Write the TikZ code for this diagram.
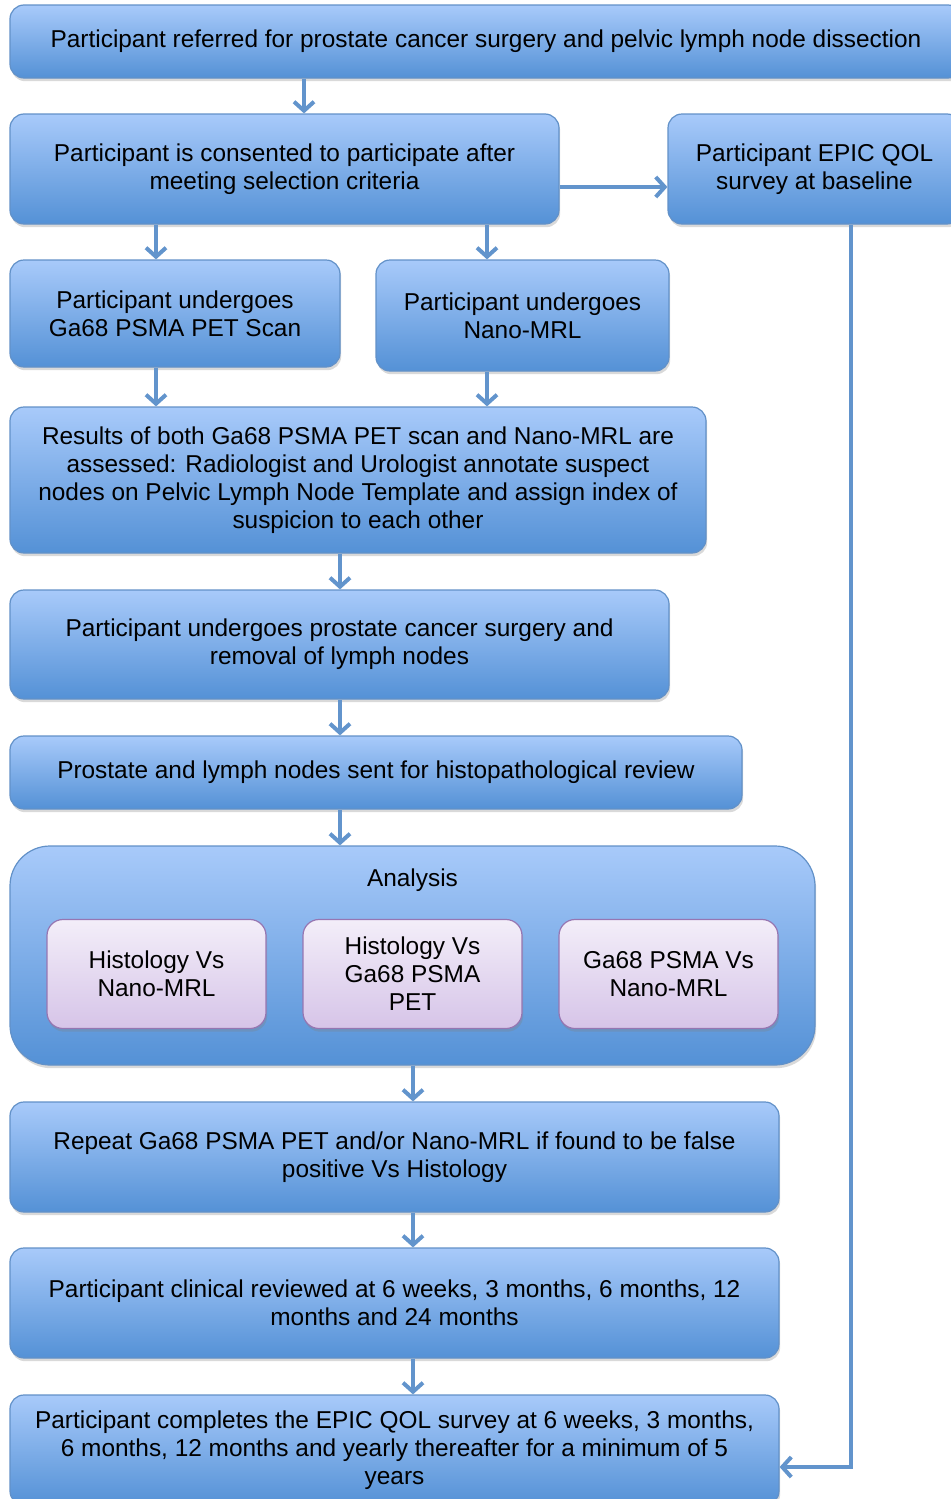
\documentclass[tikz,border=0pt]{standalone}
\usepackage{fontspec}
\setmainfont{Liberation Sans}
\usepackage{tikz}
\usetikzlibrary{positioning,arrows.meta,shadows,calc}
\usepackage{xcolor}

\definecolor{boxtop}{RGB}{168,202,250}
\definecolor{boxbot}{RGB}{84,145,214}
\definecolor{boxline}{RGB}{98,145,200}
\definecolor{pinktop}{RGB}{243,238,249}
\definecolor{pinkbot}{RGB}{214,196,232}
\definecolor{pinkline}{RGB}{150,118,178}
\definecolor{linkcol}{RGB}{98,148,204}

\tikzset{
  bluebox/.style={draw=boxline,line width=0.6pt,rounded corners=7pt,
    top color=boxtop,bottom color=boxbot,align=center,inner sep=0pt,
    font=\fontsize{12.2}{14}\selectfont,
    drop shadow={opacity=0.3,shadow xshift=0.6pt,shadow yshift=-1.6pt}},
  pinkbox/.style={draw=pinkline,line width=0.6pt,rounded corners=8pt,
    top color=pinktop,bottom color=pinkbot,align=center,inner sep=0pt,
    minimum width=109.5pt,minimum height=54.5pt,
    font=\fontsize{12.2}{14}\selectfont,
    drop shadow={opacity=0.3,shadow xshift=0.6pt,shadow yshift=-1.6pt}},
  link/.style={draw=linkcol,line width=2pt,
    -{Straight Barb[length=4.5pt,width=10pt,line width=2pt]}}
}

\begin{document}
\begin{tikzpicture}[x=0.5pt,y=-0.5pt]
\useasboundingbox (0,0) rectangle (951,1499);
% columns used by the connectors
\coordinate (colA) at (156,0);
\coordinate (colB) at (487,0);
\coordinate (colC) at (340,0);
\coordinate (colD) at (413,0);
\coordinate (colE) at (304,0);
\coordinate (colF) at (851,0);

\node[bluebox,minimum width=476pt,minimum height=36.5pt] (refer) at (486,41.5)
  {Participant referred for prostate cancer surgery and pelvic lymph node dissection};
\node[bluebox,minimum width=274.5pt,minimum height=55pt] (consent) at (284.5,169)
  {Participant is consented to participate after\\meeting selection criteria};
\node[bluebox,minimum width=146.5pt,minimum height=55pt] (epic) at (814.5,169)
  {Participant EPIC QOL\\survey at baseline};
\node[bluebox,minimum width=165pt,minimum height=53.5pt] (pet) at (175,313.5)
  {Participant undergoes\\Ga68 PSMA PET Scan};
\node[bluebox,minimum width=146.5pt,minimum height=55.5pt] (nano) at (522.5,315.5)
  {Participant undergoes\\Nano-MRL};
\node[bluebox,minimum width=348pt,minimum height=73pt] (results) at (358,480)
  {Results of both Ga68 PSMA PET scan and Nano-MRL are\\assessed: Radiologist and Urologist annotate suspect\\nodes on Pelvic Lymph Node Template and assign index of\\suspicion to each other};
\node[bluebox,minimum width=329.5pt,minimum height=54.5pt] (surgery) at (339.5,644.5)
  {Participant undergoes prostate cancer surgery and\\removal of lymph nodes};
\node[bluebox,minimum width=366pt,minimum height=36.5pt] (histo) at (376,772.5)
  {Prostate and lymph nodes sent for histopathological review};
\node[bluebox,rounded corners=20pt,minimum width=402.5pt,minimum height=109.5pt] (analysis) at (412.5,955.5) {};
\node[font=\fontsize{12.2}{14}\selectfont] (anatitle) at (412.5,880) {Analysis};
\node[pinkbox] (cmpA) at (156.5,974) {Histology Vs\\Nano-MRL};
\node[pinkbox] (cmpB) at (412.5,974) {Histology Vs\\Ga68 PSMA\\PET};
\node[pinkbox] (cmpC) at (668.5,974) {Ga68 PSMA Vs\\Nano-MRL};
\node[bluebox,minimum width=384.5pt,minimum height=55pt] (repeat) at (394.5,1157)
  {Repeat Ga68 PSMA PET and/or Nano-MRL if found to be false\\positive Vs Histology};
\node[bluebox,minimum width=384.5pt,minimum height=55pt] (review) at (394.5,1303)
  {Participant clinical reviewed at 6 weeks, 3 months, 6 months, 12\\months and 24 months};
\node[bluebox,minimum width=384.5pt,minimum height=55pt] (final) at (394.5,1450)
  {Participant completes the EPIC QOL survey at 6 weeks, 3 months,\\6 months, 12 months and yearly thereafter for a minimum of 5\\years};

% connectors
\draw[link] (refer.south -| colE) -- (consent.north -| colE);
\draw[link] ([yshift=-9pt]consent.east) -- ([yshift=-9pt]epic.west);
\draw[link] (consent.south -| colA) -- (pet.north -| colA);
\draw[link] (consent.south -| colB) -- (nano.north -| colB);
\draw[link] (pet.south -| colA) -- (results.north -| colA);
\draw[link] (nano.south -| colB) -- (results.north -| colB);
\draw[link] (results.south -| colC) -- (surgery.north -| colC);
\draw[link] (surgery.south -| colC) -- (histo.north -| colC);
\draw[link] (histo.south -| colC) -- (analysis.north -| colC);
\draw[link] (analysis.south -| colD) -- (repeat.north -| colD);
\draw[link] (repeat.south -| colD) -- (review.north -| colD);
\draw[link] (review.south -| colD) -- (final.north -| colD);
\draw[link] (epic.south -| colF) |- ([yshift=-8.5pt]final.east);
\end{tikzpicture}
\end{document}
